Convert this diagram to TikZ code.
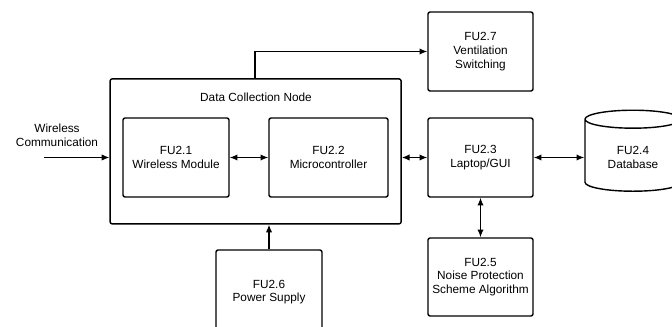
\documentclass[tikz,border=0pt]{standalone}
\usepackage{fontspec}
\setmainfont{Liberation Sans}
\usepackage{tikz}
\usetikzlibrary{arrows.meta,positioning,shapes.geometric}

\begin{document}
\begin{tikzpicture}[
    fu/.style={draw,line width=1pt,rounded corners=1.5pt,align=center,
        font=\fontsize{8.4}{9.8}\selectfont,minimum width=2.65cm,minimum height=1.975cm,inner sep=1pt},
    link/.style={line width=0.9pt,-{Latex[length=5.5pt,width=4.5pt]}},
    twoway/.style={line width=0.9pt,{Latex[length=5.5pt,width=4.5pt]}-{Latex[length=5.5pt,width=4.5pt]}}
  ]
    \clip (0,0) rectangle (16.8,8.175);

    % Data collection node
    \node[fu,minimum width=7.275cm,minimum height=3.625cm] (dcn) at (6.39,4.39) {};
    \node[font=\fontsize{8.4}{9.8}\selectfont] (dcnlabel) at (6.4,5.75) {Data Collection Node};
    \node[fu] (wm) at (4.4,4.2375) {FU2.1\\Wireless Module};
    \node[fu,minimum width=2.975cm] (mc) at (8.2125,4.2375) {FU2.2\\Microcontroller};

    % Wireless input
    \node[align=center,font=\fontsize{8.4}{9.8}\selectfont] (wc) at (1.425,4.8) {Wireless\\Communication};
    \coordinate (wcin) at (1.1,4.2375);

    % Right column
    \node[fu,minimum width=2.625cm] (vs) at (12.0125,6.8875) {FU2.7\\Ventilation\\Switching};
    \node[fu,minimum width=2.625cm] (gui) at (12.0125,4.2375) {FU2.3\\Laptop/GUI};
    \node[fu,minimum width=2.625cm,minimum height=1.95cm] (nps) at (12.0125,1.25) {FU2.5\\Noise Protection\\Scheme Algorithm};
    \node[draw,line width=1pt,cylinder,shape border rotate=90,aspect=0.3,
        minimum width=2.4cm,minimum height=2.025cm,align=center,
        font=\fontsize{8.4}{9.8}\selectfont] (db) at (15.825,4.2375) {FU2.4\\Database};

    % Power
    \node[fu,minimum height=2.1cm] (ps) at (6.725,0.875) {FU2.6\\Power Supply};

    % Arrows
    \draw[link] (wcin) -- (wcin -| dcn.west);
    \draw[twoway] (wm) -- (mc);
    \draw[twoway] (dcn.east |- gui) -- (gui);
    \draw[twoway] (gui) -- (db.west |- gui);
    \draw[twoway] (gui) -- (nps);
    \draw[link] (ps.north -| 6.725,0) -- (6.725,0 |- dcn.south);
    \draw[link] (6.375,0 |- dcn.north) |- (vs.west);
\end{tikzpicture}
\end{document}
